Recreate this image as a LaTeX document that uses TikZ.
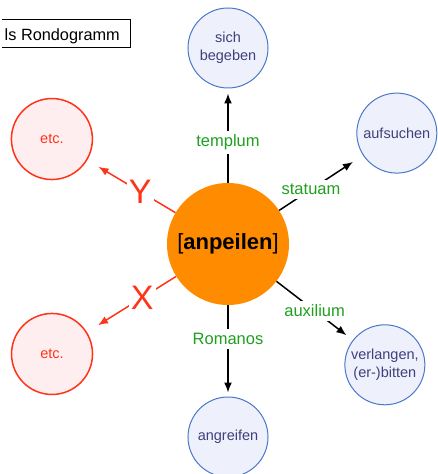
\documentclass[tikz,border=0pt]{standalone}
\usepackage{fontspec}
\setmainfont{Liberation Sans}
\usetikzlibrary{arrows.meta}
\definecolor{kernorange}{HTML}{FF8C00}
\definecolor{sinnrand}{HTML}{4A78C8}
\definecolor{sinnfill}{HTML}{EEF0FC}
\definecolor{sinntext}{HTML}{40407A}
\definecolor{leerrot}{HTML}{FF3318}
\definecolor{leerfill}{HTML}{FFEEF0}
\definecolor{wertgruen}{HTML}{1FA01F}
\begin{document}
\begin{tikzpicture}[x=1pt,y=1pt,
    kern/.style={circle, fill=kernorange, minimum size=122, inner sep=0pt,
      font=\fontsize{22}{26}\selectfont},
    sinn/.style={circle, draw=sinnrand, fill=sinnfill, text=sinntext, line width=1pt,
      minimum size=80, inner sep=0pt, align=center, font=\fontsize{14.5}{18}\selectfont},
    leer/.style={circle, draw=leerrot, fill=leerfill, text=leerrot, line width=1.5pt,
      minimum size=81, inner sep=0pt, font=\fontsize{14.5}{18}\selectfont},
    wert/.style={fill=white, text=wertgruen, inner sep=4pt, font=\fontsize{16.5}{20}\selectfont},
    platz/.style={fill=white, text=leerrot, inner sep=2pt, font=\fontsize{34}{38}\selectfont},
    pfeil/.style={line width=1.5pt, -{Latex[length=10pt,width=8pt]}},
    titel/.style={inner xsep=10pt, inner ysep=0pt, font=\fontsize{16.3}{19}\selectfont}]
  \useasboundingbox (-228,-230) rectangle (209,244);
  % Titelrahmen, links angeschnitten
  \draw[line width=0.8pt] (-226,225) -| (-98,197) -- (-226,197);
  \node[titel, anchor=base east] (titel) at (-98,203) {ls Rondogramm};
  \node[kern] (anpeilen) at (0,0) {[\textbf{anpeilen}]};
  \draw
    (90:196) node[sinn] (begeben) {sich\\begeben}
    (33.3:202) node[sinn] (aufsuchen) {aufsuchen}
    (-37.6:198) node[sinn] (verlangen) {verlangen,\\(er-)bitten}
    (-90:193) node[sinn] (angreifen) {angreifen}
    (149.2:205) node[leer] (etcY) {etc.}
    (212:207.5) node[leer] (etcX) {etc.};
  \begin{scope}[pfeil]
    \draw[shorten >=5pt] (anpeilen) to node[wert, pos=0.43] {templum} (begeben);
    \draw[shorten >=12pt] (anpeilen) to node[wert, pos=0.38] {statuam} (aufsuchen);
    \draw[shorten >=8pt] (anpeilen) to node[wert, pos=0.5] {auxilium} (verlangen);
    \draw[shorten >=4pt] (anpeilen) to node[wert, pos=0.37] {Romanos} (angreifen);
    \draw[leerrot, shorten >=13pt] (anpeilen) to node[platz, pos=0.4] {Y} (etcY);
    \draw[leerrot, shorten >=13pt] (anpeilen) to node[platz, pos=0.38] {X} (etcX);
  \end{scope}
\end{tikzpicture}
\end{document}
